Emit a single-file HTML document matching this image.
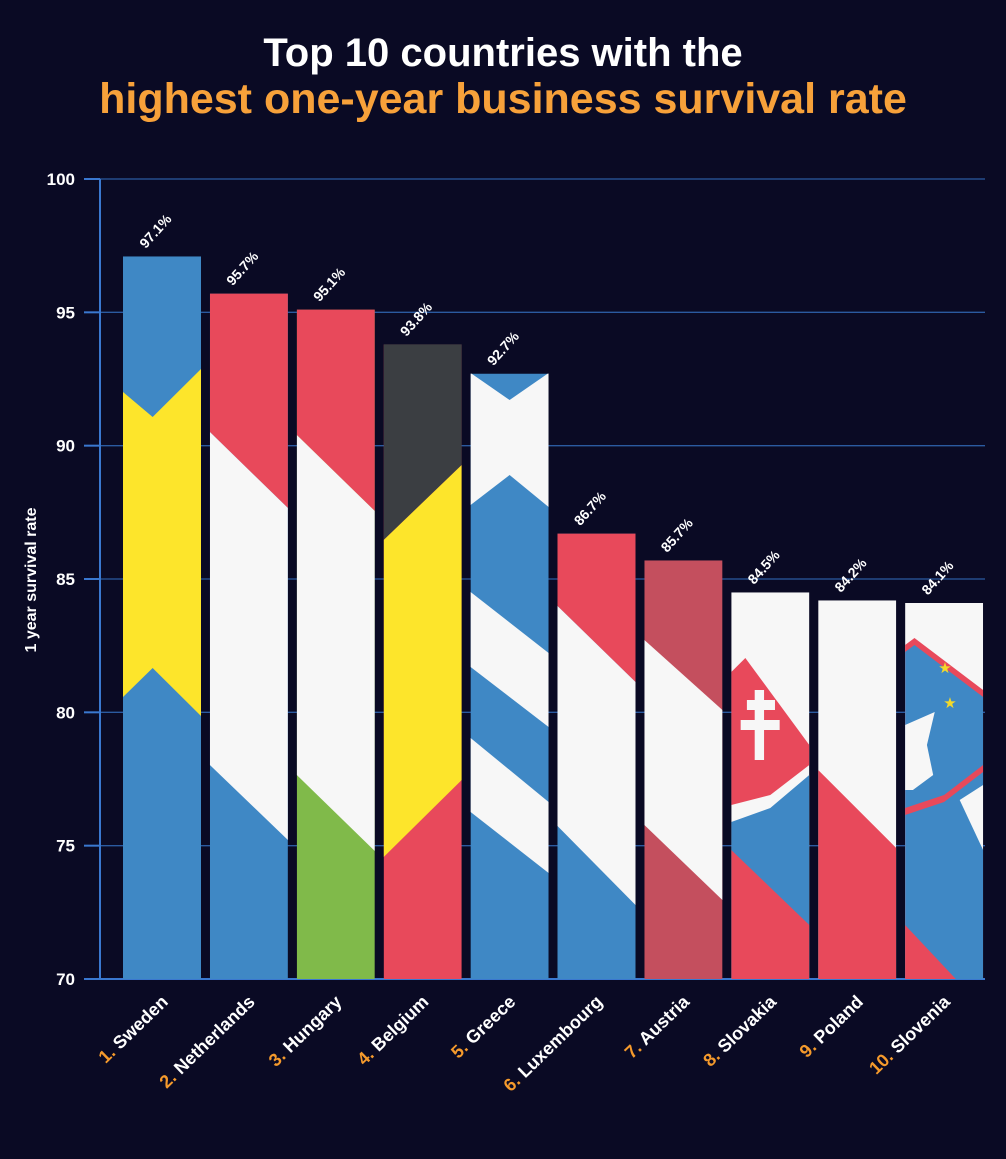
<!DOCTYPE html>
<html><head><meta charset="utf-8"><style>
html,body{margin:0;padding:0;background:#0a0a24;}
svg{display:block;font-family:"Liberation Sans",sans-serif;}
</style></head><body>
<svg id="c" width="1006" height="1159" viewBox="0 0 1006 1159">
<rect width="1006" height="1159" fill="#0a0a24"/>
<text x="503" y="66" text-anchor="middle" fill="#fff" font-size="40" font-weight="bold">Top 10 countries with the</text>
<text x="503" y="113" text-anchor="middle" fill="#f7a13a" font-size="43" font-weight="bold">highest one-year business survival rate</text>
<text transform="translate(36,580) rotate(-90)" text-anchor="middle" fill="#fff" font-size="16" font-weight="bold">1 year survival rate</text>
<g id="grid"></g><g id="bars"></g><g id="labels"></g>
</svg>
<script>
const categories=["Sweden","Netherlands","Hungary","Belgium","Greece","Luxembourg","Austria","Slovakia","Poland","Slovenia"];
const values=[97.1,95.7,95.1,93.8,92.7,86.7,85.7,84.5,84.2,84.1];
const valueLabels=["97.1%","95.7%","95.1%","93.8%","92.7%","86.7%","85.7%","84.5%","84.2%","84.1%"];
const ticks=[70,75,80,85,90,95,100];
const NS="http://www.w3.org/2000/svg";
const y0=979,y1=179,vmin=70,vmax=100;
const yS=v=>y0-(v-vmin)/(vmax-vmin)*(y0-y1);
const x0=123,step=86.9,bw=78;
const xS=i=>x0+i*step;
const B="#3f88c5",R="#e8495b",Y="#fde52b",W="#f7f7f7",G="#80ba4a",K="#3b3e42",AR="#c44f5e";
function el(t,a,p){const e=document.createElementNS(NS,t);for(const k in a)e.setAttribute(k,a[k]);(p||document.getElementById('c')).appendChild(e);return e;}
const flags=[
 [B,[[Y,[[0,392],[0.38,417],[1,369],[1,716],[0.38,668],[0,697]]]]],
 [B,[[R,[[0,0],[1,0],[1,508],[0,432]]],[W,[[0,432],[1,508],[1,840],[0,765]]]]],
 [G,[[R,[[0,0],[1,0],[1,511],[0,435]]],[W,[[0,435],[1,511],[1,851],[0,775]]]]],
 [R,[[K,[[0,0],[1,0],[1,465],[0,540]]],[Y,[[0,540],[1,465],[1,780],[0,857]]]]],
 [B,[[W,[[0,373],[0.5,400],[1,373],[1,507],[0.5,475],[0,505]]],[W,[[0,592],[1,653],[1,727],[0,667]]],[W,[[0,738],[1,802],[1,873],[0,812]]]]],
 [B,[[R,[[0,0],[1,0],[1,682],[0,606]]],[W,[[0,606],[1,682],[1,905],[0,826]]]]],
 [AR,[[W,[[0,640],[1,710],[1,900],[0,825]]]]],
 [W,[[R,[[0,672],[0.18,658],[1,745],[1,765],[0.5,795],[0,805]]],[B,[[0,822],[0.5,808],[1,775],[1,979],[0,979]]],[R,[[0,850],[1,925],[1,979],[0,979]]],
     [W,[[0.3,690],[0.42,690],[0.42,700],[0.56,700],[0.56,710],[0.42,710],[0.42,720],[0.62,720],[0.62,730],[0.42,730],[0.42,760],[0.3,760],[0.3,730],[0.12,730],[0.12,720],[0.3,720],[0.3,710],[0.2,710],[0.2,700],[0.3,700]]]]],
 [W,[[R,[[0,770],[1,848],[1,979],[0,979]]]]],
 [W,[[R,[[0,645],[0.12,638],[1,690],[1,979],[0,979]]],[B,[[0,652],[0.12,645],[1,697],[1,979],[0,979]]],[W,[[1,785],[1,850],[0.7,800]]],
     [W,[[0,725],[0.38,712],[0.28,745],[0.36,775],[0.1,790],[0,790]]],[R,[[0,808],[0.5,795],[1,765],[1,772],[0.5,802],[0,815]]],[R,[[0,925],[0.65,979],[0,979]]]]]
];
const g=document.getElementById('grid');
ticks.forEach(t=>{const y=yS(t);
 const l=el('line',{x1:84,x2:985,y1:y,y2:y,stroke:t===70?"#3a78d0":"#2b5aa0","stroke-width":t===70?2:1.3},g);
 
 const tk=el('line',{x1:84,x2:100,y1:y,y2:y,stroke:"#3a78d0","stroke-width":2},g);
 
 const tx=el('text',{x:75,y:y+6,"text-anchor":"end",fill:"#fff","font-size":17,"font-weight":"bold"},g);tx.textContent=t;
 
});
const ax=el('line',{x1:100,x2:100,y1:179,y2:980,stroke:"#3a78d0","stroke-width":2},g);

const bars=document.getElementById('bars'),labs=document.getElementById('labels');
const defs=el('defs',{});
categories.forEach((c,i)=>{
 const x=xS(i),top=yS(values[i]);
 const cp=el('clipPath',{id:'cp'+i},defs);el('rect',{x:x,y:top,width:bw,height:y0-top},cp);
 const bg=el('g',{"clip-path":"url(#cp"+i+")"},bars);
 
 const f=flags[i];
 el('rect',{x:x,y:top,width:bw,height:y0-top,fill:f[0]},bg);
 f[1].forEach(p=>{el('polygon',{fill:p[0],points:p[1].map(q=>(x+q[0]*bw)+','+q[1]).join(' ')},bg);});
 if(i===9){[[945,668],[950,703]].forEach(s=>{const st=el('text',{x:s[0],y:s[1]+5,"text-anchor":"middle",fill:"#f3d92a","font-size":15},bg);st.textContent="★";});}
 const cx=x+bw/2;
 const vl=el('text',{transform:`translate(${cx-3},${top-22}) rotate(-48)`,"text-anchor":"middle",fill:"#fff","font-size":14,"font-weight":"bold"},labs);
 vl.textContent=valueLabels[i];
 
 const cl=el('text',{transform:`translate(${cx+7},${1003}) rotate(-44)`,"text-anchor":"end","font-size":18,"font-weight":"bold",fill:"#fff"},labs);
 
 const n=el('tspan',{fill:"#f59a2c"},cl);n.textContent=(i+1)+". ";
 const nm=el('tspan',{},cl);nm.textContent=c;
});
</script>
</body></html>
